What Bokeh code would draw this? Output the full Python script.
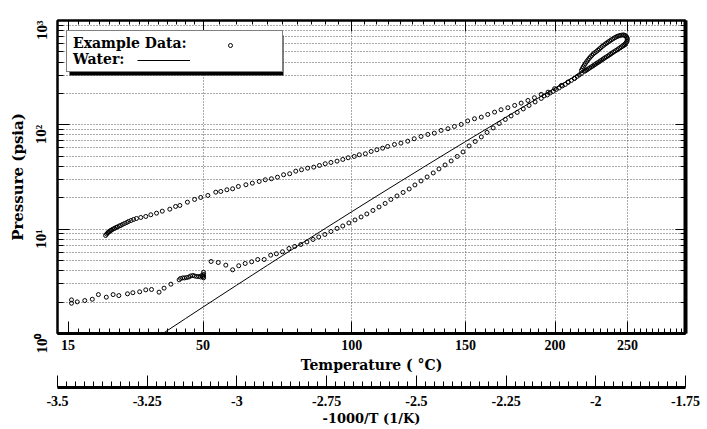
import math
from bokeh.plotting import figure
from bokeh.models import (Range1d, LinearAxis, LogAxis, FixedTicker, Grid, Legend,
                          LegendItem, BoxAnnotation, CustomJSTickFormatter)
from bokeh.core.properties import value
from bokeh.embed import file_html
from bokeh.resources import INLINE

# ---------------- tick definitions ----------------
TEMP_MAJOR = [15, 50, 100, 150, 200, 250]            # deg C
TEMP_MINOR = [17.5, 20, 22.5, 25, 27.5, 30, 32.5, 35, 37.5, 40, 42.5, 45, 47.5] + \
             [t for t in range(55, 300, 5) if t not in TEMP_MAJOR]
INV_MAJOR = [-3.5, -3.25, -3.0, -2.75, -2.5, -2.25, -2.0, -1.75]   # -1000/T
INV_MINOR = [round(-3.5 + 0.025 * i, 3) for i in range(71) if i % 10 != 0]
P_MAJOR = [1, 10, 100, 1000]
P_MINOR = [m * 10 ** k for k in range(3) for m in range(2, 10)]

# ---------------- water saturation curve (steam table) ----------------
water_T = [35, 40, 45, 50, 55, 60, 65, 70, 75, 80, 85, 90, 95, 100, 110, 120, 130,
           140, 150, 160, 170, 180, 190, 200, 210, 220, 230, 240, 250]
water_psia = [0.816, 1.071, 1.391, 1.791, 2.286, 2.892, 3.630, 4.524, 5.596, 6.873,
              8.388, 10.17, 12.26, 14.71, 20.80, 28.81, 39.20, 52.44, 69.06, 89.67,
              114.9, 145.4, 182.1, 225.5, 276.7, 336.4, 405.7, 485.4, 576.7]

# ---------------- example data (x = -1000/T, P in psia) ----------------
start_x = [-3.461, -3.461, -3.445, -3.424, -3.403, -3.386, -3.364, -3.345, -3.329, -3.305,
           -3.290, -3.271, -3.254, -3.238, -3.217, -3.203, -3.184]
start_p = [2.10, 1.95, 2.01, 2.07, 2.13, 2.36, 2.23, 2.36, 2.31, 2.40,
           2.46, 2.51, 2.62, 2.64, 2.49, 2.72, 2.97]

cluster_x = [-3.161, -3.157, -3.151, -3.146, -3.140, -3.134, -3.129, -3.123, -3.118, -3.112,
             -3.106, -3.101, -3.095, -3.093, -3.093, -3.093, -3.098, -3.093]
cluster_p = [3.27, 3.37, 3.41, 3.41, 3.44, 3.48, 3.56, 3.60, 3.56, 3.52,
             3.52, 3.48, 3.52, 3.68, 3.85, 3.41, 3.60, 3.55]

lower_x = [-3.072, -3.052, -3.031, -3.012, -2.995, -2.977, -2.959, -2.942, -2.924, -2.906,
           -2.890, -2.873, -2.855, -2.839, -2.822, -2.805, -2.788, -2.772, -2.755, -2.738,
           -2.721, -2.705, -2.688, -2.671, -2.654, -2.638, -2.621, -2.604, -2.587, -2.571,
           -2.554, -2.537, -2.520, -2.504, -2.487, -2.470, -2.453, -2.437, -2.420, -2.403,
           -2.386, -2.370, -2.353, -2.336, -2.319, -2.303, -2.286, -2.269, -2.252, -2.236,
           -2.219, -2.202, -2.186, -2.169, -2.152, -2.135, -2.119, -2.102, -2.085, -2.068,
           -2.052]
lower_p = [4.90, 4.79, 4.52, 4.08, 4.46, 4.69, 4.87, 5.12, 5.12, 5.63,
           5.81, 6.07, 6.53, 6.83, 7.13, 7.54, 7.97, 8.42, 8.90, 9.50,
           10.16, 10.73, 11.47, 12.25, 13.09, 13.99, 15.11, 16.32, 17.64, 19.27,
           20.82, 22.48, 24.29, 26.53, 28.98, 31.66, 34.58, 37.77, 41.25, 45.07,
           49.77, 54.98, 62.78, 69.31, 76.56, 84.55, 93.39, 103.1, 112.7, 121.7,
           131.5, 142.1, 153.5, 165.8, 179.1, 193.5, 209.0, 225.9, 244.0, 266.6,
           291.1]

upper_x = [-3.366, -3.363, -3.360, -3.358, -3.355, -3.352, -3.349, -3.345, -3.341, -3.337,
           -3.333, -3.328, -3.324, -3.319, -3.313, -3.307, -3.302, -3.295, -3.288, -3.280,
           -3.268, -3.254, -3.240, -3.224, -3.208, -3.187, -3.171, -3.159, -3.138, -3.118,
           -3.101, -3.081, -3.059, -3.045, -3.028, -3.012, -2.996, -2.975, -2.957, -2.938,
           -2.921, -2.904, -2.887, -2.870, -2.853, -2.836, -2.820, -2.803, -2.786, -2.770,
           -2.754, -2.738, -2.721, -2.705, -2.690, -2.673, -2.659, -2.642, -2.626, -2.610,
           -2.594, -2.580, -2.561, -2.543, -2.524, -2.506, -2.487, -2.468, -2.450, -2.431,
           -2.412, -2.394, -2.375, -2.357, -2.338, -2.319, -2.301, -2.282, -2.264, -2.245,
           -2.226, -2.208, -2.189, -2.171, -2.152, -2.133, -2.115, -2.096, -2.077, -2.059,
           -2.040]
upper_p = [8.70, 8.99, 9.19, 9.40, 9.50, 9.72, 9.82, 10.04, 10.16, 10.38,
           10.50, 10.73, 10.85, 11.10, 11.34, 11.59, 11.85, 12.11, 12.39, 12.66,
           12.95, 13.24, 13.74, 14.24, 14.88, 15.55, 16.51, 16.87, 18.15, 19.27,
           20.14, 21.04, 22.63, 22.98, 23.86, 24.39, 25.67, 26.65, 27.61, 28.67,
           29.76, 30.42, 31.51, 33.24, 33.97, 35.98, 37.11, 38.45, 39.31, 40.79,
           42.37, 43.60, 44.87, 46.59, 48.36, 49.77, 51.67, 52.83, 55.58, 57.70,
           59.78, 62.07, 64.87, 66.76, 69.77, 73.56, 77.41, 80.91, 83.25, 88.39,
           91.77, 96.54, 100.9, 109.0, 114.4, 118.5, 125.8, 132.4, 139.6, 145.9,
           153.5, 161.5, 171.3, 181.9, 195.6, 205.8, 221.9, 238.6, 257.8, 278.6,
           311.1]

joint_x = [-2.144, -2.127, -2.110, -2.093, -2.077, -2.060, -2.046]
joint_p = [189.3, 202.2, 218.5, 236.0, 255.0, 278.6, 300.9]

loop_x = [-2.040, -2.035, -2.029, -2.022, -2.015, -2.007, -1.998, -1.990, -1.982, -1.973,
          -1.965, -1.957, -1.948, -1.940, -1.932, -1.923, -1.916, -1.912, -1.913, -1.918,
          -1.925, -1.933, -1.941, -1.950, -1.958, -1.966, -1.975, -1.983, -1.991, -2.000,
          -2.008, -2.017, -2.025, -2.032]
loop_p = [332.4, 359.1, 387.9, 419.0, 447.7, 478.4, 505.5, 534.2, 564.5, 596.6,
          623.5, 651.6, 681.1, 704.0, 719.7, 727.7, 711.8, 673.6, 630.4, 596.6,
          570.8, 546.2, 522.6, 500.0, 478.4, 457.8, 438.0, 419.0, 401.0, 383.6,
          367.0, 351.2, 336.0, 325.1]

loop2_x = [-2.0375, -2.032, -2.0255, -2.0185, -2.011, -2.0025, -1.994, -1.986, -1.9775,
           -1.969, -1.961, -1.9525, -1.944, -1.936, -1.9275, -1.9195, -1.914, -1.9125,
           -1.9155, -1.9215, -1.929, -1.937, -1.9455, -1.954, -1.962, -1.9705, -1.979,
           -1.987, -1.9955, -2.004, -2.0125, -2.021, -2.0285]
loop2_p = [345.5, 373.3, 403.2, 433.1, 462.8, 491.8, 519.6, 549.1, 580.3,
           609.9, 637.4, 666.2, 692.4, 711.8, 723.7, 719.7, 692.4, 651.7,
           613.3, 583.6, 558.4, 534.3, 511.2, 489.1, 468.0, 447.8, 428.4,
           409.9, 392.2, 375.2, 359.0, 343.5, 330.5]

data_x = start_x + cluster_x + lower_x + upper_x + joint_x + loop_x + loop2_x
data_p = start_p + cluster_p + lower_p + upper_p + joint_p + loop_p + loop2_p


def inv(t):
    return -1000.0 / (t + 273.15)


water_x = [inv(t) for t in water_T]

TICK_FONT = "Liberation Serif"
LAB_FONT = "DejaVu Serif"

p = figure(width=700, height=429, x_range=Range1d(-3.5, -1.75), y_range=Range1d(1, 1000),
           x_axis_type=None, y_axis_type="log", y_axis_location=None,
           output_backend="svg", toolbar_location=None,
           min_border_left=57, min_border_right=15, min_border_top=20, min_border_bottom=96)
p.outline_line_color = "black"
p.outline_line_width = 2
p.background_fill_color = "white"
p.border_fill_color = "white"


def style(ax):
    ax.major_label_text_font = TICK_FONT
    ax.major_label_text_font_style = "bold"
    ax.major_label_text_font_size = "14px"
    ax.major_label_text_color = "black"
    ax.axis_label_text_font = LAB_FONT
    ax.axis_label_text_font_style = "bold"
    ax.axis_label_text_font_size = "14px"
    ax.axis_label_text_color = "black"
    ax.axis_line_color = "black"
    ax.major_tick_line_color = "black"
    ax.minor_tick_line_color = "black"
    ax.major_tick_out = 0
    ax.minor_tick_out = 0


blank = CustomJSTickFormatter(code="return ''")

temp_ticker = FixedTicker(ticks=[inv(t) for t in TEMP_MAJOR],
                          minor_ticks=[inv(t) for t in TEMP_MINOR])
temp_axis = LinearAxis(ticker=temp_ticker,
                       formatter=CustomJSTickFormatter(code="return String(Math.round(-1000/tick - 273.15))"),
                       axis_label="Temperature ( °C)")
style(temp_axis)
temp_axis.major_tick_in = 12
temp_axis.minor_tick_in = 5
temp_axis.axis_line_width = 3
temp_axis.major_label_standoff = 6
temp_axis.axis_label_standoff = 4

# invisible spacer between the two bottom scales
spacer = LinearAxis(ticker=FixedTicker(ticks=[-3.4875]), formatter=blank)
spacer.axis_line_color = None
spacer.major_tick_in = 0
spacer.major_tick_out = 12
spacer.major_tick_line_color = "white"
spacer.major_tick_line_width = 1
spacer.minor_tick_out = 0
spacer.minor_tick_line_color = None
spacer.major_label_standoff = 0
spacer.major_label_text_font_size = "0px"

inv_axis = LinearAxis(ticker=FixedTicker(ticks=INV_MAJOR, minor_ticks=INV_MINOR),
                      formatter=CustomJSTickFormatter(code="return String(tick)"),
                      axis_label="-1000/T (1/K)")
style(inv_axis)
inv_axis.axis_label_text_font_size = "13px"
inv_axis.major_tick_in = 12
inv_axis.minor_tick_in = 6
inv_axis.axis_line_width = 3
inv_axis.major_label_standoff = 8
inv_axis.axis_label_standoff = 2

p.add_layout(temp_axis, "below")
p.add_layout(spacer, "below")
p.add_layout(inv_axis, "below")

top_axis = LinearAxis(ticker=temp_ticker, formatter=blank)
style(top_axis)
top_axis.major_tick_in = 11
top_axis.minor_tick_in = 4
top_axis.axis_line_width = 2
top_axis.major_label_standoff = 0
top_axis.major_label_text_font_size = "0px"
p.add_layout(top_axis, "above")

p_ticker = FixedTicker(ticks=P_MAJOR, minor_ticks=P_MINOR)
left_axis = LogAxis(ticker=p_ticker,
                    formatter=CustomJSTickFormatter(
                        code="const s = ['\u2070', '\u00b9', '\u00b2', '\u00b3']; "
                             "return '10' + s[Math.round(Math.log10(tick))];"),
                    axis_label="Pressure (psia)")
style(left_axis)
left_axis.major_tick_in = 12
left_axis.minor_tick_in = 6
left_axis.axis_line_width = 2
left_axis.major_label_orientation = math.pi / 2
left_axis.major_label_standoff = 16
left_axis.axis_label_standoff = -4
left_axis.major_label_text_font_size = "15px"
left_axis.axis_label_text_font_size = "15px"
p.add_layout(left_axis, "left")

right_axis = LogAxis(ticker=p_ticker, formatter=blank)
style(right_axis)
right_axis.major_tick_in = 10
right_axis.minor_tick_in = 5
right_axis.axis_line_width = 4
right_axis.major_label_standoff = 0
right_axis.major_label_text_font_size = "0px"
p.add_layout(right_axis, "right")

xgrid = Grid(dimension=0, ticker=FixedTicker(ticks=[inv(t) for t in TEMP_MAJOR[1:]]))
xgrid.grid_line_color = "#555555"
xgrid.grid_line_dash = "1 2"
xgrid.grid_line_width = 1
p.add_layout(xgrid)
p.ygrid.ticker = FixedTicker(ticks=[v for v in sorted(P_MAJOR + P_MINOR) if 1 < v < 1000])
p.ygrid.grid_line_color = "#555555"
p.ygrid.grid_line_dash = "1 2"
p.ygrid.grid_line_width = 1

water_r = p.line(water_x, water_psia, line_color="black", line_width=1)
data_r = p.scatter(data_x, data_p, marker="circle", size=4, fill_color=None,
                   line_color="black", line_width=1)
dummy = p.scatter([], [], size=0, fill_color=None, line_color=None)

shadow = BoxAnnotation(left=69, right=283, top=35, bottom=75,
                       left_units="canvas", right_units="canvas",
                       top_units="canvas", bottom_units="canvas",
                       fill_color="black", fill_alpha=1, line_color=None)
p.add_layout(shadow)

leg_main = Legend(items=[LegendItem(label=value("Example Data:"), renderers=[dummy]),
                         LegendItem(label=value("Water:"), renderers=[dummy])],
                  location=(9, 261), orientation="vertical",
                  glyph_width=0, glyph_height=16, label_height=16, label_width=205,
                  label_standoff=2, padding=4, spacing=0, margin=0,
                  border_line_color="black", border_line_width=1,
                  background_fill_color="white", background_fill_alpha=1,
                  label_text_font=LAB_FONT, label_text_font_style="bold",
                  label_text_font_size="14px", label_text_color="black")
p.add_layout(leg_main)

leg_dot = Legend(items=[LegendItem(label=value(""), renderers=[data_r])],
                 location=(168, 283), glyph_width=10, glyph_height=10,
                 label_width=0, label_height=10, label_standoff=0, padding=0,
                 spacing=0, margin=0, border_line_color=None, background_fill_alpha=0,
                 label_text_font_size="1px")
p.add_layout(leg_dot)

leg_line = Legend(items=[LegendItem(label=value(""), renderers=[water_r])],
                  location=(80, 268), glyph_width=53, glyph_height=10,
                  label_width=0, label_height=10, label_standoff=0, padding=0,
                  spacing=0, margin=0, border_line_color=None, background_fill_alpha=0,
                  label_text_font_size="1px")
p.add_layout(leg_line)

open("out.html", "w", encoding="utf-8").write(file_html(p, INLINE))
